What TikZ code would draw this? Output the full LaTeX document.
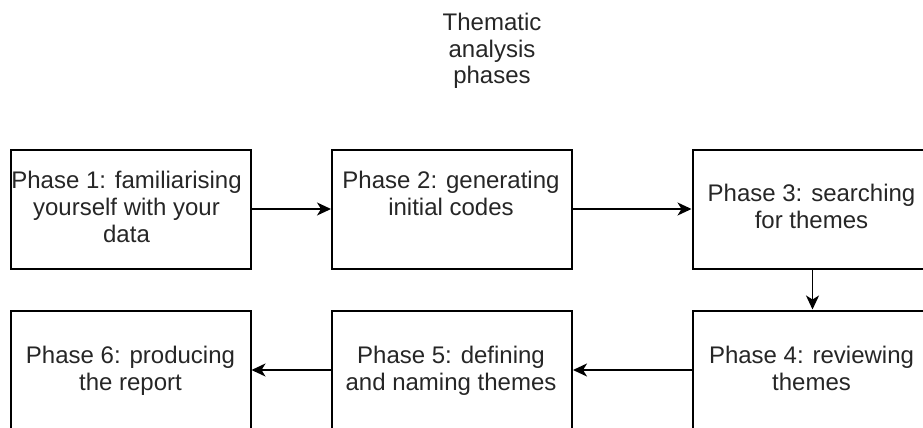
\documentclass[tikz,border=0pt]{standalone}
\usepackage{fontspec}
\setmainfont{Liberation Sans}
\usetikzlibrary{arrows.meta,calc}
\begin{document}
\begin{tikzpicture}[x=1pt,y=-1pt,
  box/.style={draw=black, line width=2pt, minimum width=240pt, minimum height=119pt, inner sep=0pt},
  lbl/.style={font=\fontsize{24}{27}\selectfont, align=center, anchor=base, inner sep=0pt, text=black!85},
  conn/.style={line width=1.6pt, -{Stealth[length=14pt,width=13pt,inset=4pt]}}]
\useasboundingbox (0,0) rectangle (923,428);
% title (anchor base = last line's baseline)
\node[lbl] (title) at (492,84) {Thematic\\analysis\\phases};
% row 1
\node[box] (p1) at (130.5,209) {};
\node[box] (p2) at (452,209) {};
\node[box] (p3) at (812.5,209) {};
% row 2
\node[box] (p4) at (812.5,370) {};
\node[box] (p5) at (452,370) {};
\node[box] (p6) at (130.5,370) {};
% texts
\node[lbl] (t1) at ($(p1.north)+(-4,94)$) {Phase 1: familiarising\\yourself with your\\data};
\node[lbl] (t2) at ($(p2.north)+(-1,67)$) {Phase 2: generating\\initial codes};
\node[lbl] (t3) at ($(p3.north)+(-1,80)$) {Phase 3: searching\\for themes};
\node[lbl] (t4) at ($(p4.north)+(-1,81)$) {Phase 4: reviewing\\themes};
\node[lbl] (t5) at ($(p5.north)+(-1,81)$) {Phase 5: defining\\and naming themes};
\node[lbl] (t6) at ($(p6.north)+(0,81)$) {Phase 6: producing\\the report};
% connectors
\draw[conn] (p1) -- (p2);
\draw[conn] (p2) -- (p3);
\draw[conn] (p3) -- (p4);
\draw[conn] (p4) -- (p5);
\draw[conn] (p5) -- (p6);
\end{tikzpicture}
\end{document}
